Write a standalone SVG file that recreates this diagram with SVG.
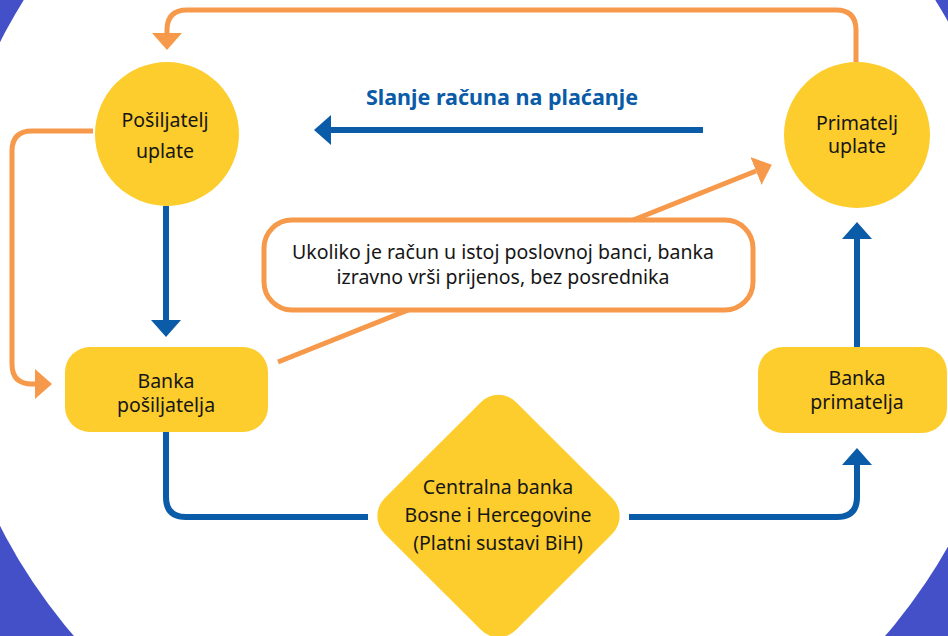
<svg xmlns="http://www.w3.org/2000/svg" width="948" height="636" viewBox="0 0 948 636">
<style>
.node{fill:#FCCD2C}
.lbl{font-family:"Noto Sans","Liberation Sans",sans-serif;font-size:19.5px;fill:#161616;text-anchor:middle}
.or{fill:none;stroke:#F7994A;stroke-width:5}
.bl{fill:none;stroke:#0A5BA8;stroke-width:6}
.title{font-family:"Noto Sans","Liberation Sans",sans-serif;font-size:21.5px;font-weight:bold;fill:#0A5BA8;text-anchor:middle}
</style>
<defs>
<marker id="ao" markerUnits="userSpaceOnUse" viewBox="0 0 17 30" markerWidth="17" markerHeight="30" refX="0" refY="15" orient="auto"><path d="M0,0 L17,15 L0,30 z" fill="#F7994A"/></marker>
<marker id="ab" markerUnits="userSpaceOnUse" viewBox="0 0 17 30" markerWidth="17" markerHeight="30" refX="0" refY="15" orient="auto"><path d="M0,0 L17,15 L0,30 z" fill="#0A5BA8"/></marker>
</defs>
<rect x="0" y="0" width="948" height="636" fill="#4350C8"/>
<circle cx="479.5" cy="284" r="537" fill="#FFFFFF"/>
<g id="connectors">
<path class="or" d="M856,62 V30 Q856,10 836,10 H187 Q167,10 167,30 V33" marker-end="url(#ao)"/>
<path class="or" d="M93,131 H32 Q12,131 12,151 V364 Q12,384 32,384 H35" marker-end="url(#ao)"/>
<path class="or" d="M278,362 L756,171" marker-end="url(#ao)"/>
<path class="bl" d="M166,206 V320" marker-end="url(#ab)"/>
<path class="bl" d="M166,432 V497 Q166,517 186,517 H368"/>
<path class="bl" d="M629,517 H837 Q857,517 857,497 V465" marker-end="url(#ab)"/>
<path class="bl" d="M857,347 V239" marker-end="url(#ab)"/>
<path class="bl" d="M703,130 H331" marker-end="url(#ab)"/>
</g>
<text class="title" x="502" y="105">Slanje računa na plaćanje</text>
<g id="posiljatelj">
<circle class="node" cx="167" cy="134" r="72"/>
<text class="lbl" x="165" y="127">Pošiljatelj</text>
<text class="lbl" x="165" y="158">uplate</text>
</g>
<g id="primatelj">
<circle class="node" cx="857" cy="135" r="73"/>
<text class="lbl" x="857" y="130">Primatelj</text>
<text class="lbl" x="857" y="153">uplate</text>
</g>
<g id="callout">
<rect x="264" y="220" width="489" height="90" rx="28" fill="#FFFFFF" stroke="#F7994A" stroke-width="5"/>
<text class="lbl" x="503" y="259">Ukoliko je račun u istoj poslovnoj banci, banka</text>
<text class="lbl" x="503" y="284">izravno vrši prijenos, bez posrednika</text>
</g>
<g id="banka-posiljatelja">
<rect class="node" x="65" y="347" width="203" height="85" rx="25"/>
<text class="lbl" x="166" y="388">Banka</text>
<text class="lbl" x="166" y="412">pošiljatelja</text>
</g>
<g id="banka-primatelja">
<rect class="node" x="758" y="347" width="189" height="86" rx="25"/>
<text class="lbl" x="857" y="385">Banka</text>
<text class="lbl" x="857" y="409">primatelja</text>
</g>
<g id="centralna-banka">
<rect class="node" x="405.5" y="423" width="186" height="186" rx="25" transform="rotate(45 498.5 516)"/>
<text class="lbl" x="498" y="494">Centralna banka</text>
<text class="lbl" x="498" y="522">Bosne i Hercegovine</text>
<text class="lbl" x="498" y="550">(Platni sustavi BiH)</text>
</g>
</svg>
